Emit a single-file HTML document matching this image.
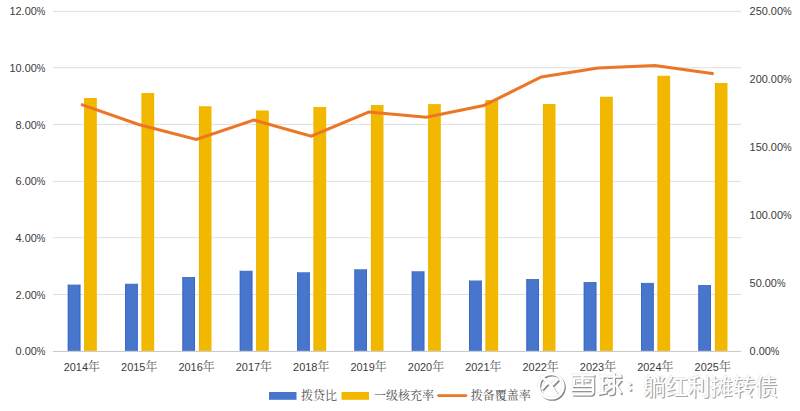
<!DOCTYPE html>
<html lang="zh"><head><meta charset="utf-8"><title>chart</title>
<style>html,body{margin:0;padding:0;background:#fff}body{width:800px;height:411px;overflow:hidden;font-family:"Liberation Sans",sans-serif}svg{display:block}</style>
</head><body>
<svg width="800" height="411" viewBox="0 0 800 411" role="img" aria-label="拨贷比 一级核充率 拨备覆盖率 2014年-2025年 雪球：躺红利摊转债">
<desc>图表：拨贷比、一级核充率（左轴 0.00%–12.00%）与拨备覆盖率（右轴 0.00%–250.00%），2014年至2025年。水印：雪球：躺红利摊转债</desc>
<rect width="800" height="411" fill="#fff"/>
<line x1="53.0" x2="741.2" y1="11.40" y2="11.40" stroke="#e0e0e0" stroke-width="1"/>
<line x1="53.0" x2="741.2" y1="67.70" y2="67.70" stroke="#e0e0e0" stroke-width="1"/>
<line x1="53.0" x2="741.2" y1="124.40" y2="124.40" stroke="#e0e0e0" stroke-width="1"/>
<line x1="53.0" x2="741.2" y1="181.40" y2="181.40" stroke="#e0e0e0" stroke-width="1"/>
<line x1="53.0" x2="741.2" y1="237.70" y2="237.70" stroke="#e0e0e0" stroke-width="1"/>
<line x1="53.0" x2="741.2" y1="294.50" y2="294.50" stroke="#e0e0e0" stroke-width="1"/>
<rect x="67.80" y="284.60" width="12.55" height="66.30" fill="#4876cc"/>
<rect x="67.80" y="284.60" width="0.8" height="66.30" fill="#3564c6"/>
<rect x="79.55" y="284.60" width="0.8" height="66.30" fill="#3564c6"/>
<rect x="84.30" y="98.00" width="12.55" height="252.90" fill="#f2b800"/>
<rect x="84.30" y="98.00" width="0.8" height="252.90" fill="#eeb000"/>
<rect x="125.13" y="283.75" width="12.55" height="67.15" fill="#4876cc"/>
<rect x="125.13" y="283.75" width="0.8" height="67.15" fill="#3564c6"/>
<rect x="136.88" y="283.75" width="0.8" height="67.15" fill="#3564c6"/>
<rect x="141.63" y="93.00" width="12.55" height="257.90" fill="#f2b800"/>
<rect x="141.63" y="93.00" width="0.8" height="257.90" fill="#eeb000"/>
<rect x="182.46" y="277.00" width="12.55" height="73.90" fill="#4876cc"/>
<rect x="182.46" y="277.00" width="0.8" height="73.90" fill="#3564c6"/>
<rect x="194.21" y="277.00" width="0.8" height="73.90" fill="#3564c6"/>
<rect x="198.96" y="106.25" width="12.55" height="244.65" fill="#f2b800"/>
<rect x="198.96" y="106.25" width="0.8" height="244.65" fill="#eeb000"/>
<rect x="239.79" y="270.75" width="12.55" height="80.15" fill="#4876cc"/>
<rect x="239.79" y="270.75" width="0.8" height="80.15" fill="#3564c6"/>
<rect x="251.54" y="270.75" width="0.8" height="80.15" fill="#3564c6"/>
<rect x="256.29" y="110.50" width="12.55" height="240.40" fill="#f2b800"/>
<rect x="256.29" y="110.50" width="0.8" height="240.40" fill="#eeb000"/>
<rect x="297.12" y="272.25" width="12.55" height="78.65" fill="#4876cc"/>
<rect x="297.12" y="272.25" width="0.8" height="78.65" fill="#3564c6"/>
<rect x="308.87" y="272.25" width="0.8" height="78.65" fill="#3564c6"/>
<rect x="313.62" y="107.00" width="12.55" height="243.90" fill="#f2b800"/>
<rect x="313.62" y="107.00" width="0.8" height="243.90" fill="#eeb000"/>
<rect x="354.45" y="269.25" width="12.55" height="81.65" fill="#4876cc"/>
<rect x="354.45" y="269.25" width="0.8" height="81.65" fill="#3564c6"/>
<rect x="366.20" y="269.25" width="0.8" height="81.65" fill="#3564c6"/>
<rect x="370.95" y="105.00" width="12.55" height="245.90" fill="#f2b800"/>
<rect x="370.95" y="105.00" width="0.8" height="245.90" fill="#eeb000"/>
<rect x="411.78" y="271.25" width="12.55" height="79.65" fill="#4876cc"/>
<rect x="411.78" y="271.25" width="0.8" height="79.65" fill="#3564c6"/>
<rect x="423.53" y="271.25" width="0.8" height="79.65" fill="#3564c6"/>
<rect x="428.28" y="104.10" width="12.55" height="246.80" fill="#f2b800"/>
<rect x="428.28" y="104.10" width="0.8" height="246.80" fill="#eeb000"/>
<rect x="469.11" y="280.50" width="12.55" height="70.40" fill="#4876cc"/>
<rect x="469.11" y="280.50" width="0.8" height="70.40" fill="#3564c6"/>
<rect x="480.86" y="280.50" width="0.8" height="70.40" fill="#3564c6"/>
<rect x="485.61" y="100.00" width="12.55" height="250.90" fill="#f2b800"/>
<rect x="485.61" y="100.00" width="0.8" height="250.90" fill="#eeb000"/>
<rect x="526.44" y="279.00" width="12.55" height="71.90" fill="#4876cc"/>
<rect x="526.44" y="279.00" width="0.8" height="71.90" fill="#3564c6"/>
<rect x="538.19" y="279.00" width="0.8" height="71.90" fill="#3564c6"/>
<rect x="542.94" y="104.00" width="12.55" height="246.90" fill="#f2b800"/>
<rect x="542.94" y="104.00" width="0.8" height="246.90" fill="#eeb000"/>
<rect x="583.77" y="282.00" width="12.55" height="68.90" fill="#4876cc"/>
<rect x="583.77" y="282.00" width="0.8" height="68.90" fill="#3564c6"/>
<rect x="595.52" y="282.00" width="0.8" height="68.90" fill="#3564c6"/>
<rect x="600.27" y="96.75" width="12.55" height="254.15" fill="#f2b800"/>
<rect x="600.27" y="96.75" width="0.8" height="254.15" fill="#eeb000"/>
<rect x="641.10" y="282.90" width="12.55" height="68.00" fill="#4876cc"/>
<rect x="641.10" y="282.90" width="0.8" height="68.00" fill="#3564c6"/>
<rect x="652.85" y="282.90" width="0.8" height="68.00" fill="#3564c6"/>
<rect x="657.60" y="75.75" width="12.55" height="275.15" fill="#f2b800"/>
<rect x="657.60" y="75.75" width="0.8" height="275.15" fill="#eeb000"/>
<rect x="698.43" y="285.00" width="12.55" height="65.90" fill="#4876cc"/>
<rect x="698.43" y="285.00" width="0.8" height="65.90" fill="#3564c6"/>
<rect x="710.18" y="285.00" width="0.8" height="65.90" fill="#3564c6"/>
<rect x="714.93" y="83.00" width="12.55" height="267.90" fill="#f2b800"/>
<rect x="714.93" y="83.00" width="0.8" height="267.90" fill="#eeb000"/>
<line x1="53.0" x2="741.2" y1="351.45" y2="351.45" stroke="#c8c8c8" stroke-width="1"/>
<polyline points="81.00,104.40 138.60,124.50 196.25,139.50 253.75,120.00 311.25,136.25 368.75,112.00 426.25,117.20 483.75,105.50 541.25,77.00 598.00,68.00 655.00,65.50 713.70,73.80" fill="none" stroke="#ec7626" stroke-width="3.0" stroke-linejoin="miter" stroke-linecap="butt"/>
<g font-family="'Liberation Sans', sans-serif" font-size="10.93" fill="#3b3b3b">
<text x="9.47" y="15.20">12.00</text>
<text transform="translate(36.82 15.20) scale(0.883 1)">%</text>
<text x="9.47" y="71.88">10.00</text>
<text transform="translate(36.82 71.88) scale(0.883 1)">%</text>
<text x="15.55" y="128.57">8.00</text>
<text transform="translate(36.82 128.57) scale(0.883 1)">%</text>
<text x="15.55" y="185.25">6.00</text>
<text transform="translate(36.82 185.25) scale(0.883 1)">%</text>
<text x="15.55" y="241.93">4.00</text>
<text transform="translate(36.82 241.93) scale(0.883 1)">%</text>
<text x="15.55" y="298.62">2.00</text>
<text transform="translate(36.82 298.62) scale(0.883 1)">%</text>
<text x="15.55" y="355.30">0.00</text>
<text transform="translate(36.82 355.30) scale(0.883 1)">%</text>
<text x="749.60" y="15.20">250.00</text>
<text transform="translate(783.02 15.20) scale(0.883 1)">%</text>
<text x="749.60" y="83.22">200.00</text>
<text transform="translate(783.02 83.22) scale(0.883 1)">%</text>
<text x="749.60" y="151.24">150.00</text>
<text transform="translate(783.02 151.24) scale(0.883 1)">%</text>
<text x="749.60" y="219.26">100.00</text>
<text transform="translate(783.02 219.26) scale(0.883 1)">%</text>
<text x="749.60" y="287.28">50.00</text>
<text transform="translate(776.95 287.28) scale(0.883 1)">%</text>
<text x="749.60" y="355.30">0.00</text>
<text transform="translate(770.87 355.30) scale(0.883 1)">%</text>
<text x="63.72" y="370.8">2014</text>
<text x="88.03" y="371" font-family="'Liberation Serif', 'Noto Serif CJK SC', serif" font-size="12" fill="#636368">年</text>
<text x="121.07" y="370.8">2015</text>
<text x="145.38" y="371" font-family="'Liberation Serif', 'Noto Serif CJK SC', serif" font-size="12" fill="#636368">年</text>
<text x="178.42" y="370.8">2016</text>
<text x="202.73" y="371" font-family="'Liberation Serif', 'Noto Serif CJK SC', serif" font-size="12" fill="#636368">年</text>
<text x="235.77" y="370.8">2017</text>
<text x="260.08" y="371" font-family="'Liberation Serif', 'Noto Serif CJK SC', serif" font-size="12" fill="#636368">年</text>
<text x="293.12" y="370.8">2018</text>
<text x="317.43" y="371" font-family="'Liberation Serif', 'Noto Serif CJK SC', serif" font-size="12" fill="#636368">年</text>
<text x="350.47" y="370.8">2019</text>
<text x="374.78" y="371" font-family="'Liberation Serif', 'Noto Serif CJK SC', serif" font-size="12" fill="#636368">年</text>
<text x="407.82" y="370.8">2020</text>
<text x="432.13" y="371" font-family="'Liberation Serif', 'Noto Serif CJK SC', serif" font-size="12" fill="#636368">年</text>
<text x="465.17" y="370.8">2021</text>
<text x="489.48" y="371" font-family="'Liberation Serif', 'Noto Serif CJK SC', serif" font-size="12" fill="#636368">年</text>
<text x="522.52" y="370.8">2022</text>
<text x="546.83" y="371" font-family="'Liberation Serif', 'Noto Serif CJK SC', serif" font-size="12" fill="#636368">年</text>
<text x="579.87" y="370.8">2023</text>
<text x="604.18" y="371" font-family="'Liberation Serif', 'Noto Serif CJK SC', serif" font-size="12" fill="#636368">年</text>
<text x="637.22" y="370.8">2024</text>
<text x="661.53" y="371" font-family="'Liberation Serif', 'Noto Serif CJK SC', serif" font-size="12" fill="#636368">年</text>
<text x="694.57" y="370.8">2025</text>
<text x="718.88" y="371" font-family="'Liberation Serif', 'Noto Serif CJK SC', serif" font-size="12" fill="#636368">年</text>
</g>
<rect x="269" y="392" width="27.5" height="7.8" fill="#4876cc"/>
<text x="301" y="400.2" font-family="'Liberation Serif', 'Noto Serif CJK SC', serif" font-size="12" fill="#4e4e4e">拨贷比</text>
<rect x="341.5" y="392" width="27.5" height="7.8" fill="#f2b800"/>
<text x="374" y="400.2" font-family="'Liberation Serif', 'Noto Serif CJK SC', serif" font-size="12" fill="#4e4e4e">一级核充率</text>
<line x1="438.5" x2="465.9" y1="395.6" y2="395.6" stroke="#ec7626" stroke-width="2.8" stroke-linecap="round"/>
<text x="470.8" y="400.2" font-family="'Liberation Serif', 'Noto Serif CJK SC', serif" font-size="12" fill="#4e4e4e">拨备覆盖率</text>
<g transform="translate(-0.6 -0.6)"><circle cx="551.2" cy="386.2" r="12.2" fill="none" stroke="#ebebeb" stroke-width="2.4"/><path d="M541 376.2L549.9 383.9L557.2 395.6M557.8 379.1L552.2 384.7M547.4 382.8L541.6 389" fill="none" stroke="#ebebeb" stroke-width="2.8" stroke-linejoin="round"/><path d="M572.8 375.3H593.4M582.4 375.3V383.6M574 383.4V378.3H593V391.8Q593 394.3 590.4 394.3H573.2M577 381.2H579.8M585.6 381.2H588.4M573 385.9H593M572.2 389.9H593M600.8 376.3H606.4M602.4 376.3V391.6M602.4 383.6H605.2M599 393.6L605.6 392.3M608.4 376.6H620.4M613.8 373.6V391.2Q613.8 393.8 611.2 393.8H609.6M607.4 379.6L610.2 382.4M605.8 390.6L611.6 386.8M620.2 380.4L616.2 385.6L620.4 392.4M618.4 373.4L619.8 374.8" fill="none" stroke="#ebebeb" stroke-width="2.3" stroke-linecap="square" stroke-linejoin="round"/><rect x="628.6" y="382.4" width="2.6" height="2.6" fill="#ebebeb"/><rect x="628.6" y="388" width="2.6" height="2.6" fill="#ebebeb"/><text x="643" y="395" font-family="'Liberation Sans', 'Noto Sans CJK SC', sans-serif" font-size="22.4" fill="#ebebeb">躺红利摊转债</text></g>
<g transform="translate(1.2 1.2)"><circle cx="551.2" cy="386.2" r="12.2" fill="none" stroke="#858585" stroke-width="2.4"/><path d="M541 376.2L549.9 383.9L557.2 395.6M557.8 379.1L552.2 384.7M547.4 382.8L541.6 389" fill="none" stroke="#858585" stroke-width="2.8" stroke-linejoin="round"/><path d="M572.8 375.3H593.4M582.4 375.3V383.6M574 383.4V378.3H593V391.8Q593 394.3 590.4 394.3H573.2M577 381.2H579.8M585.6 381.2H588.4M573 385.9H593M572.2 389.9H593M600.8 376.3H606.4M602.4 376.3V391.6M602.4 383.6H605.2M599 393.6L605.6 392.3M608.4 376.6H620.4M613.8 373.6V391.2Q613.8 393.8 611.2 393.8H609.6M607.4 379.6L610.2 382.4M605.8 390.6L611.6 386.8M620.2 380.4L616.2 385.6L620.4 392.4M618.4 373.4L619.8 374.8" fill="none" stroke="#949494" stroke-width="2.3" stroke-linecap="square" stroke-linejoin="round"/><rect x="628.6" y="382.4" width="2.6" height="2.6" fill="#949494"/><rect x="628.6" y="388" width="2.6" height="2.6" fill="#949494"/><text x="643" y="395" font-family="'Liberation Sans', 'Noto Sans CJK SC', sans-serif" font-size="22.4" fill="#a6a6a6">躺红利摊转债</text></g>
<g transform="translate(0 0)"><circle cx="551.2" cy="386.2" r="12.2" fill="none" stroke="#ffffff" stroke-width="2.4"/><path d="M541 376.2L549.9 383.9L557.2 395.6M557.8 379.1L552.2 384.7M547.4 382.8L541.6 389" fill="none" stroke="#ffffff" stroke-width="2.8" stroke-linejoin="round"/><path d="M572.8 375.3H593.4M582.4 375.3V383.6M574 383.4V378.3H593V391.8Q593 394.3 590.4 394.3H573.2M577 381.2H579.8M585.6 381.2H588.4M573 385.9H593M572.2 389.9H593M600.8 376.3H606.4M602.4 376.3V391.6M602.4 383.6H605.2M599 393.6L605.6 392.3M608.4 376.6H620.4M613.8 373.6V391.2Q613.8 393.8 611.2 393.8H609.6M607.4 379.6L610.2 382.4M605.8 390.6L611.6 386.8M620.2 380.4L616.2 385.6L620.4 392.4M618.4 373.4L619.8 374.8" fill="none" stroke="#ffffff" stroke-width="2.3" stroke-linecap="square" stroke-linejoin="round"/><rect x="628.6" y="382.4" width="2.6" height="2.6" fill="#ffffff"/><rect x="628.6" y="388" width="2.6" height="2.6" fill="#ffffff"/><text x="643" y="395" font-family="'Liberation Sans', 'Noto Sans CJK SC', sans-serif" font-size="22.4" fill="#ffffff">躺红利摊转债</text></g>
</svg>
</body></html>
